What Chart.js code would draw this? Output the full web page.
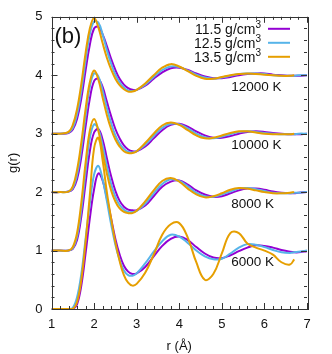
<!DOCTYPE html>
<html>
<head>
<meta charset="utf-8">
<script src="https://cdn.jsdelivr.net/npm/chart.js@4.4.1/dist/chart.umd.min.js"></script>
<style>
  html, body { margin: 0; padding: 0; background: #fff; }
  #wrap { width: 332px; height: 354px; }
</style>
</head>
<body>
<div id="wrap"><canvas id="grChart" width="332" height="354"></canvas></div>
<script>
// r grid (Angstrom) shared by all curves
const rValues = [1.0, 1.2, 1.4, 1.5, 1.6, 1.7, 1.8, 1.9, 2.0, 2.1, 2.2, 2.3, 2.4, 2.5, 2.6, 2.7, 2.8, 2.9, 3.0,
  3.2, 3.4, 3.6, 3.8, 4.0, 4.2, 4.4, 4.6, 4.8, 5.0, 5.2, 5.4, 5.6, 5.8, 6.0, 6.2, 6.4, 6.6, 6.7, 6.8, 7.0];

// g(r) (unshifted), one array per temperature and density
const g6000_115 = [0, 0, 0, 0, 0.08, 0.4, 0.95, 1.55, 2.05, 2.32, 2.2, 1.9, 1.55, 1.2, 0.93, 0.74, 0.64, 0.6, 0.61,
  0.72, 0.9, 1.08, 1.2, 1.24, 1.18, 1.06, 0.95, 0.88, 0.87, 0.92, 0.99, 1.05, 1.09, 1.08, 1.05, 1.01, 0.98, 0.97, 0.97, 0.99];
const g6000_125 = [0, 0, 0, 0.02, 0.2, 0.6, 1.2, 1.8, 2.3, 2.45, 2.22, 1.85, 1.45, 1.1, 0.84, 0.66, 0.58, 0.57, 0.61,
  0.78, 0.98, 1.16, 1.27, 1.24, 1.13, 1.0, 0.9, 0.85, 0.86, 0.95, 1.05, 1.11, 1.1, 1.06, 1.01, 0.97, 0.96, 0.97, 0.98, 1.0];
const g6000_135 = [0, 0, 0, 0, 0.12, 0.5, 1.15, 1.95, 2.75, 2.93, 2.55, 2.0, 1.55, 1.14, 0.82, 0.58, 0.45, 0.4, 0.43,
  0.62, 0.93, 1.27, 1.45, 1.47, 1.22, 0.8, 0.5, 0.6, 0.95, 1.3, 1.3, 1.12, 1.05, 1.0, 0.93, 0.8, 0.76, 0.85, null, null];

const g8000_115 = [0, 0, 0, 0.03, 0.18, 0.58, 1.15, 1.7, 2.02, 2.08, 1.9, 1.58, 1.27, 1.02, 0.85, 0.75, 0.7, 0.69, 0.69,
  0.77, 0.93, 1.09, 1.18, 1.2, 1.13, 1.03, 0.96, 0.92, 0.93, 0.98, 1.03, 1.06, 1.06, 1.04, 1.01, 0.99, 0.98, 0.98, 0.99, 1.0];
const g8000_125 = [0, 0, 0, 0.04, 0.24, 0.7, 1.35, 1.92, 2.16, 2.08, 1.8, 1.45, 1.14, 0.92, 0.78, 0.7, 0.66, 0.66, 0.68,
  0.8, 0.98, 1.14, 1.22, 1.19, 1.1, 0.99, 0.93, 0.92, 0.96, 1.01, 1.06, 1.07, 1.05, 1.02, 0.99, 0.98, 0.98, 0.99, 0.99, 1.0];
const g8000_135 = [0, 0, 0, 0.06, 0.3, 0.82, 1.5, 2.05, 2.25, 2.05, 1.68, 1.32, 1.03, 0.84, 0.72, 0.66, 0.64, 0.64, 0.68,
  0.84, 1.03, 1.19, 1.24, 1.18, 1.06, 0.96, 0.91, 0.93, 0.98, 1.04, 1.07, 1.06, 1.03, 1.0, 0.98, 0.98, 0.99, 1.0, null, null];

const g10000_115 = [0, 0, 0.01, 0.05, 0.22, 0.6, 1.12, 1.6, 1.9, 1.94, 1.8, 1.55, 1.3, 1.08, 0.92, 0.8, 0.73, 0.7, 0.7,
  0.78, 0.92, 1.06, 1.15, 1.17, 1.12, 1.04, 0.97, 0.93, 0.93, 0.96, 1.0, 1.03, 1.04, 1.03, 1.01, 1.0, 0.99, 0.99, 0.99, 1.0];
const g10000_125 = [0, 0, 0.01, 0.07, 0.3, 0.74, 1.3, 1.8, 2.03, 1.98, 1.74, 1.44, 1.18, 0.97, 0.83, 0.74, 0.69, 0.68, 0.7,
  0.81, 0.96, 1.1, 1.17, 1.16, 1.09, 1.0, 0.94, 0.92, 0.95, 0.99, 1.03, 1.04, 1.03, 1.01, 1.0, 0.99, 0.99, 0.99, 1.0, 1.0];
const g10000_135 = [0, 0, 0.01, 0.1, 0.38, 0.85, 1.42, 1.88, 2.08, 1.93, 1.62, 1.32, 1.08, 0.9, 0.78, 0.7, 0.67, 0.67, 0.7,
  0.84, 1.0, 1.14, 1.19, 1.15, 1.06, 0.97, 0.92, 0.93, 0.97, 1.01, 1.04, 1.04, 1.02, 1.0, 0.99, 0.99, 0.99, 1.0, null, null];

const g12000_115 = [0, 0, 0.01, 0.07, 0.25, 0.6, 1.08, 1.52, 1.8, 1.83, 1.7, 1.5, 1.28, 1.09, 0.94, 0.84, 0.78, 0.75, 0.75,
  0.82, 0.94, 1.05, 1.12, 1.13, 1.09, 1.03, 0.98, 0.95, 0.95, 0.97, 1.0, 1.02, 1.03, 1.03, 1.01, 1.0, 0.99, 0.99, 0.99, 1.0];
const g12000_125 = [0, 0, 0.02, 0.1, 0.33, 0.73, 1.25, 1.7, 1.92, 1.9, 1.7, 1.43, 1.2, 1.01, 0.88, 0.79, 0.74, 0.73, 0.75,
  0.84, 0.97, 1.09, 1.15, 1.14, 1.08, 1.01, 0.96, 0.94, 0.96, 0.99, 1.02, 1.03, 1.03, 1.02, 1.0, 0.99, 0.99, 0.99, 1.0, 1.0];
const g12000_135 = [0, 0, 0.03, 0.15, 0.42, 0.85, 1.38, 1.8, 1.98, 1.82, 1.55, 1.3, 1.1, 0.94, 0.83, 0.76, 0.72, 0.72, 0.75,
  0.86, 1.0, 1.13, 1.19, 1.15, 1.07, 0.99, 0.94, 0.94, 0.97, 1.0, 1.02, 1.03, 1.02, 1.01, 1.0, 0.99, 0.99, 1.0, null, null];

const tempLabels = ["6000 K", "8000 K", "10000 K", "12000 K"];
const tempOffsets = [0, 1, 2, 3];
const densityLabels = ["11.5 g/cm", "12.5 g/cm", "13.5 g/cm"];
const densityColors = ["#9400d3", "#56b4e9", "#e69f00"];
const xTicks = [1, 2, 3, 4, 5, 6, 7];
const yTicks = [0, 1, 2, 3, 4, 5];

const curves = [
  [g6000_115, g6000_125, g6000_135],
  [g8000_115, g8000_125, g8000_135],
  [g10000_115, g10000_125, g10000_135],
  [g12000_115, g12000_125, g12000_135]
];

const FONT = '"Liberation Sans", Arial, Helvetica, sans-serif';

// gnuplot-like frame: box border, inward major/minor ticks on all four sides, labels and key
const framePlugin = {
  id: "framePlugin",
  afterDraw(chart) {
    const { ctx, chartArea: a, scales } = chart;
    const xs = scales.x, ys = scales.y;
    ctx.save();
    ctx.strokeStyle = "#333";
    ctx.lineWidth = 1;
    ctx.strokeRect(Math.round(a.left) + 0.5, Math.round(a.top) + 0.5,
      Math.round(a.right - a.left), Math.round(a.bottom - a.top));

    ctx.beginPath();
    for (let v = xs.min; v <= xs.max + 1e-6; v += 0.2) {
      const major = Math.abs(v - Math.round(v)) < 1e-6;
      const len = major ? 6 : 3;
      const px = Math.round(xs.getPixelForValue(v)) + 0.5;
      ctx.moveTo(px, a.bottom); ctx.lineTo(px, a.bottom - len);
      ctx.moveTo(px, a.top); ctx.lineTo(px, a.top + len);
    }
    for (let v = ys.min; v <= ys.max + 1e-6; v += 0.2) {
      const major = Math.abs(v - Math.round(v)) < 1e-6;
      const len = major ? 6 : 3;
      const py = Math.round(ys.getPixelForValue(v)) + 0.5;
      ctx.moveTo(a.left, py); ctx.lineTo(a.left + len, py);
      ctx.moveTo(a.right, py); ctx.lineTo(a.right - len, py);
    }
    ctx.stroke();

    // temperature labels
    ctx.fillStyle = "#111";
    ctx.textAlign = "left";
    ctx.textBaseline = "middle";
    ctx.font = "13.5px " + FONT;
    tempLabels.forEach((t, i) => {
      ctx.fillText(t, xs.getPixelForValue(5.22), ys.getPixelForValue(tempOffsets[i] + 0.8));
    });

    // panel tag
    ctx.font = "22px " + FONT;
    ctx.textBaseline = "alphabetic";
    ctx.fillText("(b)", a.left + 3, a.top + 26);

    // key, right justified text with superscript, then a line sample
    const mainFont = "14px " + FONT, supFont = "10px " + FONT;
    densityLabels.forEach((lab, i) => {
      const y = a.top + 12 + i * 14;
      ctx.font = supFont;
      const ws = ctx.measureText("3").width;
      ctx.font = mainFont;
      const wm = ctx.measureText(lab).width;
      const xr = a.right - 46;
      ctx.textBaseline = "middle";
      ctx.fillText(lab, xr - ws - wm, y + 1);
      ctx.font = supFont;
      ctx.fillText("3", xr - ws, y - 4);
      ctx.strokeStyle = densityColors[i];
      ctx.lineWidth = 2;
      ctx.beginPath();
      ctx.moveTo(a.right - 39, y);
      ctx.lineTo(a.right - 17, y);
      ctx.stroke();
    });
    ctx.restore();
  }
};

function buildDatasets() {
  const datasets = [];
  curves.forEach((group, ti) => {
    group.forEach((g, di) => {
      datasets.push({
        label: tempLabels[ti] + " " + densityLabels[di],
        data: rValues.map((r, i) => ({ x: r, y: g[i] == null ? null : g[i] + tempOffsets[ti] })),
        borderColor: densityColors[di],
        borderWidth: 2,
        pointRadius: 0,
        tension: 0.4,
        spanGaps: false,
        fill: false,
        order: 2 - di
      });
    });
  });
  return datasets;
}

document.addEventListener("DOMContentLoaded", () => {
  const ctx = document.getElementById("grChart").getContext("2d");
  new Chart(ctx, {
    type: "line",
    data: { datasets: buildDatasets() },
    plugins: [framePlugin],
    options: {
      responsive: false,
      animation: false,
      devicePixelRatio: 1,
      layout: { padding: { left: 0, right: 25, top: 15, bottom: 0 } },
      plugins: { legend: { display: false }, tooltip: { enabled: false } },
      scales: {
        x: {
          type: "linear",
          min: 1, max: 7,
          afterBuildTicks: (s) => { s.ticks = xTicks.map(v => ({ value: v })); },
          afterFit: (s) => { s.height = 45; },
          grid: { display: false, drawTicks: false },
          border: { display: false },
          ticks: { color: "#111", padding: 8, maxRotation: 0, font: { family: FONT, size: 13 } },
          title: { display: true, text: "r (Å)", color: "#111", padding: { top: 1, bottom: 0 }, font: { family: FONT, size: 13 } }
        },
        y: {
          type: "linear",
          min: 0, max: 5,
          afterBuildTicks: (s) => { s.ticks = yTicks.map(v => ({ value: v })); },
          afterFit: (s) => { s.width = 51.5; },
          grid: { display: false, drawTicks: false },
          border: { display: false },
          ticks: { color: "#111", padding: 9, font: { family: FONT, size: 13 } },
          title: { display: true, text: "g(r)", color: "#111", padding: { top: 6, bottom: 0 }, font: { family: FONT, size: 13 } }
        }
      }
    }
  });
});
</script>
</body>
</html>
